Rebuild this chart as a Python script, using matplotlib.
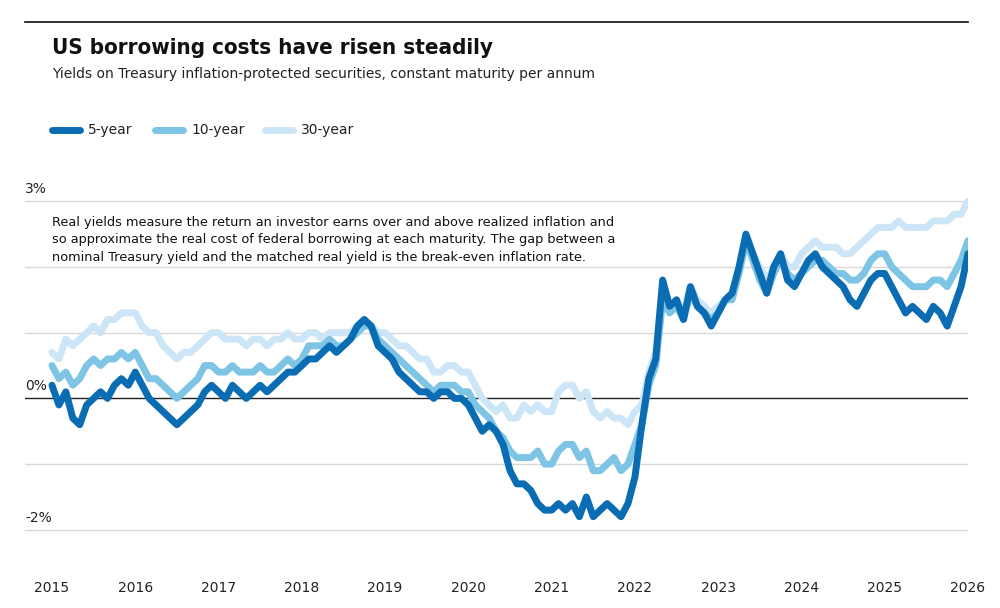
import matplotlib
matplotlib.use("Agg")
import matplotlib.pyplot as plt
import numpy as np

years = [str(y) for y in range(2015, 2027)]
y5 = [0.2,-0.1,0.1,-0.3,-0.4,-0.1,0.0,0.1,0.0,0.2,0.3,0.2,
      0.4,0.2,0.0,-0.1,-0.2,-0.3,-0.4,-0.3,-0.2,-0.1,0.1,0.2,
      0.1,0.0,0.2,0.1,0.0,0.1,0.2,0.1,0.2,0.3,0.4,0.4,
      0.5,0.6,0.6,0.7,0.8,0.7,0.8,0.9,1.1,1.2,1.1,0.8,
      0.7,0.6,0.4,0.3,0.2,0.1,0.1,0.0,0.1,0.1,0.0,0.0,
      -0.1,-0.3,-0.5,-0.4,-0.5,-0.7,-1.1,-1.3,-1.3,-1.4,-1.6,-1.7,
      -1.7,-1.6,-1.7,-1.6,-1.8,-1.5,-1.8,-1.7,-1.6,-1.7,-1.8,-1.6,
      -1.2,-0.4,0.3,0.6,1.8,1.4,1.5,1.2,1.7,1.4,1.3,1.1,
      1.3,1.5,1.6,2.0,2.5,2.2,1.9,1.6,2.0,2.2,1.8,1.7,
      1.9,2.1,2.2,2.0,1.9,1.8,1.7,1.5,1.4,1.6,1.8,1.9,
      1.9,1.7,1.5,1.3,1.4,1.3,1.2,1.4,1.3,1.1,1.4,1.7,
      2.2]
y10 = [0.5,0.3,0.4,0.2,0.3,0.5,0.6,0.5,0.6,0.6,0.7,0.6,
       0.7,0.5,0.3,0.3,0.2,0.1,0.0,0.1,0.2,0.3,0.5,0.5,
       0.4,0.4,0.5,0.4,0.4,0.4,0.5,0.4,0.4,0.5,0.6,0.5,
       0.6,0.8,0.8,0.8,0.9,0.8,0.8,0.9,1.0,1.1,1.1,0.9,
       0.8,0.7,0.6,0.5,0.4,0.3,0.2,0.1,0.2,0.2,0.2,0.1,
       0.1,-0.1,-0.2,-0.3,-0.5,-0.6,-0.8,-0.9,-0.9,-0.9,-0.8,-1.0,
       -1.0,-0.8,-0.7,-0.7,-0.9,-0.8,-1.1,-1.1,-1.0,-0.9,-1.1,-1.0,
       -0.7,-0.4,0.2,0.5,1.5,1.3,1.4,1.2,1.6,1.4,1.3,1.2,
       1.3,1.5,1.5,1.9,2.4,2.1,1.8,1.6,1.9,2.1,1.9,1.8,
       1.9,2.0,2.1,2.1,2.0,1.9,1.9,1.8,1.8,1.9,2.1,2.2,
       2.2,2.0,1.9,1.8,1.7,1.7,1.7,1.8,1.8,1.7,1.9,2.1,
       2.4]
y30 = [0.7,0.6,0.9,0.8,0.9,1.0,1.1,1.0,1.2,1.2,1.3,1.3,
       1.3,1.1,1.0,1.0,0.8,0.7,0.6,0.7,0.7,0.8,0.9,1.0,
       1.0,0.9,0.9,0.9,0.8,0.9,0.9,0.8,0.9,0.9,1.0,0.9,
       0.9,1.0,1.0,0.9,1.0,1.0,1.0,1.0,1.1,1.2,1.1,1.0,
       1.0,0.9,0.8,0.8,0.7,0.6,0.6,0.4,0.4,0.5,0.5,0.4,
       0.4,0.2,0.0,-0.1,-0.2,-0.1,-0.3,-0.3,-0.1,-0.2,-0.1,-0.2,
       -0.2,0.1,0.2,0.2,0.0,0.1,-0.2,-0.3,-0.2,-0.3,-0.3,-0.4,
       -0.2,-0.1,0.4,0.7,1.7,1.4,1.5,1.3,1.7,1.5,1.4,1.3,
       1.4,1.5,1.6,1.9,2.4,2.2,2.0,1.8,2.0,2.2,2.0,2.0,
       2.2,2.3,2.4,2.3,2.3,2.3,2.2,2.2,2.3,2.4,2.5,2.6,
       2.6,2.6,2.7,2.6,2.6,2.6,2.6,2.7,2.7,2.7,2.8,2.8,
       3.0]
labels = ["5-year", "10-year", "30-year"]
colors = ["#0a6db3", "#7ec4e5", "#cde6f7"]

t = 2015 + np.arange(len(y5)) / 12.0

fig = plt.figure(figsize=(10, 6.08), dpi=100)
ax = fig.add_axes([0.025, 1 - 545/608, 0.943, (545-190)/608])
for ys, c in zip([y30, y10, y5], colors[::-1]):
    ax.plot(t, ys, color=c, lw=5, solid_joinstyle="round", solid_capstyle="round")

ax.set_xlim(2014.676, 2026)
ax.set_ylim(-2.23, 3.17)
for v in [3, 2, 1, -1, -2]:
    ax.axhline(v, color="#d9d9d9", lw=1, zorder=0)
ax.axhline(0, color="#222222", lw=1, zorder=0)
for v, s in [(3, "3%"), (0, "0%"), (-2, "-2%")]:
    ax.text(2014.676, v + 0.08, s, fontsize=10, va="bottom", ha="left", color="#222")
ax.set_xticks(range(2015, 2027))
ax.set_xticklabels(years, fontsize=10, color="#222")
ax.tick_params(axis="x", length=0, pad=26)
ax.set_yticks([])
for s in ax.spines.values():
    s.set_visible(False)

ax.text(2015, 2.78,
        "Real yields measure the return an investor earns over and above realized inflation and\n"
        "so approximate the real cost of federal borrowing at each maturity. The gap between a\n"
        "nominal Treasury yield and the matched real yield is the break-even inflation rate.",
        fontsize=9.3, va="top", ha="left", color="#111", linespacing=1.45)

fig.add_artist(plt.Line2D([0.025, 0.968], [1 - 22/608]*2, color="#111", lw=1.2))
fig.text(0.052, 1 - 48/608, "US borrowing costs have risen steadily", fontsize=16,
         fontweight="bold", va="center", color="#111", fontstretch="condensed")
fig.text(0.052, 1 - 74/608, "Yields on Treasury inflation-protected securities, constant maturity per annum",
         fontsize=10, va="center", color="#222")
xs = [0.052, 0.155, 0.265]
for x, l, c in zip(xs, labels, colors):
    fig.add_artist(plt.Line2D([x, x + 0.028], [1 - 130/608]*2, color=c, lw=5, solid_capstyle="round"))
    fig.text(x + 0.036, 1 - 130/608, l, fontsize=10, va="center", color="#222")

fig.savefig("out.png", dpi=100)
